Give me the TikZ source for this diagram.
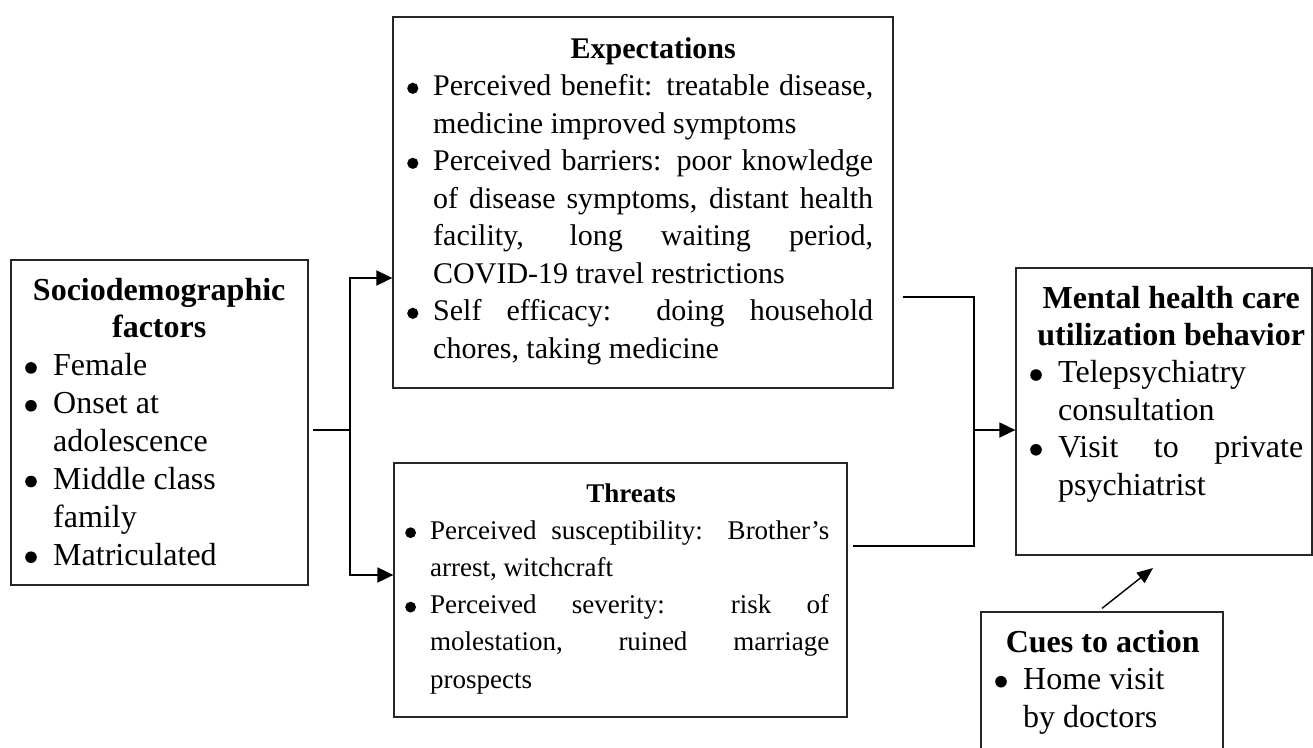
\documentclass[tikz,border=0pt]{standalone}
\usepackage{fontspec}
\setmainfont{Liberation Serif}
\usetikzlibrary{arrows.meta,calc}
\newlength{\itind}
\newlength{\bulr}
\newlength{\bulh}
\newcommand{\bdot}{\tikz[baseline=0pt]\fill[black] (\bulr,\bulh) circle[radius=\bulr];}
\newcommand{\bitem}{\par\noindent\makebox[\itind][l]{\bdot}}
\newcommand{\cont}{\par\noindent\hspace*{\itind}}
\newcommand{\just}[1]{\makebox[\dimexpr\linewidth-\itind\relax][s]{#1}}
\newcommand{\head}[2]{\par\noindent\makebox[\linewidth]{\hspace{#1}\textbf{#2}}}
\begin{document}
\begin{tikzpicture}[x=1pt,y=-1pt,
  box/.style={draw=black!85, line width=1.3pt, inner sep=0pt},
  txt/.style={anchor=base west, inner sep=0pt},
  conn/.style={line width=1.9pt, black},
  arr/.style={conn, -{Triangle[length=16pt,width=15pt]}},
  arrthin/.style={line width=1.4pt, black, -{Triangle[length=16pt,width=13pt]}}]
\useasboundingbox (0,0) rectangle (1313,747);
\clip (0,0) rectangle (1313,747);

% boxes
\node[box, minimum width=297pt, minimum height=325pt] (socio) at (159.5,422.5) {};
\node[box, minimum width=500pt, minimum height=371pt] (exp) at (643,202.5) {};
\node[box, minimum width=453pt, minimum height=254pt] (thr) at (620.5,590) {};
\node[box, minimum width=296pt, minimum height=287pt] (ment) at (1164,411.5) {};
\node[box, minimum width=242pt, minimum height=160pt] (cues) at (1102,692) {};

% texts
\node[txt] (sociotxt) at (25,300) {\begin{minipage}[t]{268pt}\setlength{\itind}{28pt}%
\setlength{\bulr}{5.8pt}\setlength{\bulh}{7.8pt}%
\fontsize{32}{37.86}\selectfont
\noindent\makebox[\linewidth]{\textbf{Sociodemographic}}
\head{0pt}{factors}
\bitem Female
\bitem Onset at
\cont adolescence
\bitem Middle class
\cont family
\bitem Matriculated\par
\end{minipage}};

\node[txt] (exptxt) at (407,58) {\begin{minipage}[t]{466pt}\setlength{\itind}{26pt}%
\setlength{\bulr}{5.6pt}\setlength{\bulh}{7.2pt}%
\fontsize{30}{37.5}\selectfont
\noindent\makebox[\linewidth]{\hspace{26pt}\textbf{Expectations}}
\bitem\just{Perceived benefit: treatable disease,}
\cont medicine improved symptoms
\bitem\just{Perceived barriers: poor knowledge}
\cont\just{of disease symptoms, distant health}
\cont\just{facility, long waiting period,}
\cont COVID-19 travel restrictions
\bitem\just{Self efficacy: doing household}
\cont chores, taking medicine\par
\end{minipage}};

\node[txt] (thrtxt) at (405,502) {\begin{minipage}[t]{424pt}\setlength{\itind}{25pt}%
\setlength{\bulr}{5.4pt}\setlength{\bulh}{6.5pt}%
\fontsize{27}{37.2}\selectfont
\noindent\makebox[\linewidth]{\hspace{28pt}\textbf{Threats}}
\bitem\just{Perceived susceptibility: Brother’s}
\cont arrest, witchcraft
\bitem\just{Perceived severity: risk of}
\cont\just{molestation, ruined marriage}
\cont prospects\par
\end{minipage}};

\node[txt] (menttxt) at (1030,308) {\begin{minipage}[t]{273pt}\setlength{\itind}{28pt}%
\setlength{\bulr}{5.8pt}\setlength{\bulh}{7.8pt}%
\fontsize{32}{37.4}\selectfont
\noindent\makebox[\linewidth]{\hspace{9pt}\textbf{Mental health care}}
\head{9pt}{utilization behavior}
\bitem Telepsychiatry
\cont consultation
\bitem\just{Visit to private}
\cont psychiatrist\par
\end{minipage}};

\node[txt] (cuestxt) at (995,652) {\begin{minipage}[t]{215pt}\setlength{\itind}{28pt}%
\setlength{\bulr}{5.8pt}\setlength{\bulh}{7.8pt}%
\fontsize{32}{37.5}\selectfont
\noindent\makebox[\linewidth]{\textbf{Cues to action}}
\bitem Home visit
\cont by doctors\par
\end{minipage}};

% connectors
\coordinate (ja) at (350,430);
\coordinate (tA) at (0,278);
\coordinate (tT) at (0,575);
\draw[conn] ([xshift=4pt]socio.east |- ja) -- (ja);
\draw[arr] (ja) |- (exp.west |- tA);
\draw[arr] (ja) |- (thr.west |- tT);

\coordinate (jb) at (974,430);
\coordinate (eA) at (0,297);
\coordinate (tB) at (0,546);
\draw[conn] ($(exp.east |- eA)+(9,0)$) -| (jb |- tB) -- ($(thr.east |- tB)+(5,0)$);
\draw[arr] (jb) -- (ment.west |- jb);

\coordinate (ct) at (1153,568);
\draw[arrthin] ([yshift=3pt]cues.north) -- (ct);
\end{tikzpicture}
\end{document}
